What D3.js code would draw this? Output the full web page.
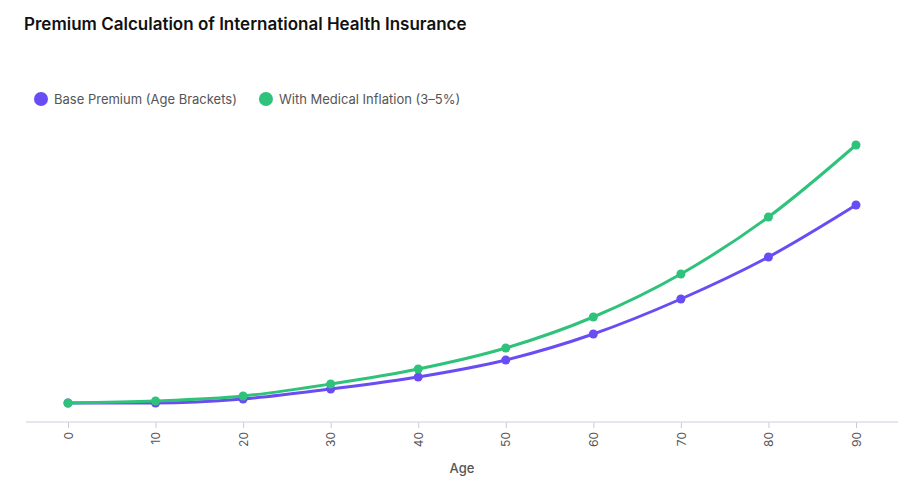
<!DOCTYPE html>
<html>
<head>
<meta charset="utf-8">
<script src="https://cdn.jsdelivr.net/npm/d3@7"></script>
<style>
  body { margin: 0; background: #fff; font-family: Inter, "Noto Sans", sans-serif; }
</style>
</head>
<body>
<svg id="chart" width="920" height="500"></svg>
<script>
const ages = [0, 10, 20, 30, 40, 50, 60, 70, 80, 90];
const basePremium = [19, 19, 23, 33, 45, 62, 88, 123, 165, 217];
const inflatedPremium = [19, 21, 26, 38, 53, 74, 105, 148, 205, 277];
const seriesNames = ["Base Premium (Age Brackets)", "With Medical Inflation (3–5%)"];
const seriesColors = ["#6a4cf5", "#2fc27a"];

const svg = d3.select("#chart");

svg.append("text")
  .attr("x", 24).attr("y", 30)
  .attr("font-size", 17).attr("font-weight", 600).attr("fill", "#111")
  .text("Premium Calculation of International Health Insurance");

const x = d3.scaleLinear().domain([0, 90]).range([68, 856]);
const y = d3.scaleLinear().domain([0, 300]).range([422, 122]);

// legend
const legend = svg.append("g");
let lx = 34;
seriesNames.forEach((name, i) => {
  legend.append("circle").attr("cx", lx + 7).attr("cy", 99).attr("r", 7).attr("fill", seriesColors[i]);
  const t = legend.append("text").attr("x", lx + 20).attr("y", 104)
    .attr("font-size", 13).attr("fill", "#555").text(name);
  lx += 20 + t.node().getComputedTextLength() + 22;
});

// x axis
const axis = svg.append("g").attr("transform", "translate(0,422)")
  .call(d3.axisBottom(x).tickValues(ages).tickSize(6).tickSizeOuter(0));
axis.select(".domain").remove();
axis.selectAll(".tick line").attr("stroke", "#ccc");
axis.selectAll(".tick text")
  .attr("transform", "rotate(-90)")
  .attr("text-anchor", "end")
  .attr("x", -10).attr("y", 0).attr("dy", "0.35em")
  .attr("font-size", 12).attr("fill", "#555")
  .attr("font-family", "Inter, sans-serif");
svg.append("line").attr("x1", 26).attr("x2", 898).attr("y1", 422).attr("y2", 422)
  .attr("stroke", "#dcdcf0").attr("stroke-width", 1.5);

svg.append("text").attr("x", 462).attr("y", 473).attr("text-anchor", "middle")
  .attr("font-size", 13).attr("font-weight", 500).attr("fill", "#555").text("Age");

const line = d3.line().x((d, i) => x(ages[i])).y(d => y(d)).curve(d3.curveMonotoneX);

[basePremium, inflatedPremium].forEach((vals, i) => {
  svg.append("path").datum(vals).attr("d", line)
    .attr("fill", "none").attr("stroke", seriesColors[i]).attr("stroke-width", 3);
  svg.selectAll(null).data(vals).join("circle")
    .attr("cx", (d, j) => x(ages[j])).attr("cy", d => y(d))
    .attr("r", 4.5).attr("fill", seriesColors[i]);
});
</script>
</body>
</html>
